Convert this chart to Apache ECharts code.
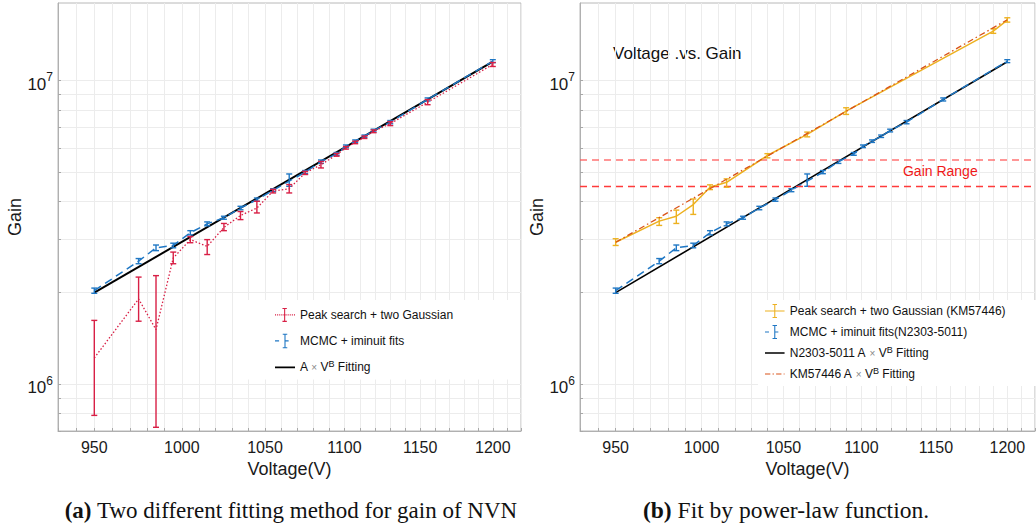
<!DOCTYPE html>
<html><head><meta charset="utf-8">
<script src="https://cdn.jsdelivr.net/npm/echarts@6/dist/echarts.min.js"></script>
<style>html,body{margin:0;padding:0;background:#fff}#c{width:1036px;height:529px}</style>
</head><body><div id="c"></div>
<script>
// ---- data ----
const peakVolt = [950,975,985,995,1005,1015,1025,1035,1045,1055,1065,1075,1085,1095,1101,1107,1113,1119,1130,1155,1200];
const peakGain = [1.218e6,1.906e6,1.51e6,2.60e6,2.99e6,2.84e6,3.28e6,3.59e6,3.80e6,4.32e6,4.40e6,4.96e6,5.28e6,5.69e6,6.0e6,6.25e6,6.5e6,6.8e6,7.21e6,8.48e6,1.129e7];
const peakLow  = [7.88e5,1.61e6,7.2e5,2.49e6,2.92e6,2.67e6,3.20e6,3.48e6,3.66e6,4.26e6,4.26e6,4.90e6,5.15e6,5.63e6,5.94e6,6.19e6,6.44e6,6.73e6,7.10e6,8.32e6,1.112e7];
const peakHigh = [1.62e6,2.25e6,2.275e6,2.72e6,3.06e6,2.99e6,3.38e6,3.70e6,4.0e6,4.38e6,4.54e6,5.02e6,5.41e6,5.75e6,6.06e6,6.31e6,6.56e6,6.87e6,7.32e6,8.65e6,1.146e7];

const mcmcVolt = [950,975,985,995,1005,1015,1025,1035,1045,1055,1065,1075,1085,1095,1101,1107,1113,1119,1130,1155,1200];
const mcmcGain = [2.03e6,2.54e6,2.81e6,2.86e6,3.15e6,3.37e6,3.53e6,3.80e6,4.05e6,4.35e6,4.66e6,4.99e6,5.40e6,5.73e6,6.07e6,6.31e6,6.55e6,6.84e6,7.29e6,8.66e6,1.158e7];
const mcmcLow  = [1.99e6,2.49e6,2.75e6,2.81e6,3.10e6,3.32e6,3.49e6,3.75e6,4.0e6,4.30e6,4.48e6,4.93e6,5.33e6,5.67e6,6.01e6,6.25e6,6.49e6,6.77e6,7.2e6,8.56e6,1.145e7];
const mcmcHigh = [2.07e6,2.59e6,2.87e6,2.91e6,3.20e6,3.42e6,3.57e6,3.85e6,4.1e6,4.40e6,4.92e6,5.05e6,5.47e6,5.79e6,6.13e6,6.37e6,6.61e6,6.91e6,7.38e6,8.76e6,1.171e7];

const kmVolt = [950,975,985,995,1005,1015,1040,1065,1090,1190,1200];
const kmGain = [2.93e6,3.44e6,3.57e6,3.90e6,4.45e6,4.62e6,5.66e6,6.64e6,7.92e6,1.455e7,1.581e7];
const kmLow  = [2.86e6,3.33e6,3.38e6,3.62e6,4.37e6,4.45e6,5.56e6,6.52e6,7.73e6,1.43e7,1.557e7];
const kmHigh = [3.01e6,3.53e6,3.74e6,4.07e6,4.53e6,4.74e6,5.74e6,6.76e6,8.13e6,1.48e7,1.609e7];

const fitVolt = [950,1200];
const nFitGain = [2.0e6,1.153e7];
const kmFitGain = [2.93e6,1.585e7];

const gainRange = [4.48e6,5.49e6];
const gainRangeLabelAt = [1153,5.02e6];

const xLabelTicks = [950,1000,1050,1100,1150,1200];
const xMinorTicks = [930,940,950,960,970,980,990,1000,1010,1020,1030,1040,1050,1060,1070,1080,1090,1100,1110,1120,1130,1140,1150,1160,1170,1180,1190,1200,1210,1220];
const yLabelTicks = [1e6,1e7];
const yMinorTicks = [7e5,8e5,9e5,1e6,2e6,3e6,4e6,5e6,6e6,7e6,8e6,9e6,1e7];

// ---- styling helpers ----
const RED = '#d81f45', BLUE = '#1f77c4', ORANGE = '#EDB120', ORED = '#D95319';
const SANS = '"Liberation Sans", Arial, Helvetica, sans-serif';
const SERIF = '"Liberation Serif", "Times New Roman", serif';
const pairs = (xs, ys) => xs.map((x, i) => [x, ys[i]]);
const triples = (xs, lo, hi) => xs.map((x, i) => [x, lo[i], hi[i]]);

function errRender(params, api) {
  const x = api.value(0), lo = api.value(1), hi = api.value(2);
  const a = api.coord([x, lo]), b = api.coord([x, hi]);
  const hw = 3;
  const st = { stroke: api.visual('color'), lineWidth: 1.4, fill: null };
  return { type: 'group', children: [
    { type: 'line', shape: { x1: a[0], y1: a[1], x2: b[0], y2: b[1] }, style: st },
    { type: 'line', shape: { x1: a[0]-hw, y1: a[1], x2: a[0]+hw, y2: a[1] }, style: st },
    { type: 'line', shape: { x1: b[0]-hw, y1: b[1], x2: b[0]+hw, y2: b[1] }, style: st }
  ]};
}

// legend icon paths (22 x 18 box)
const corners = 'M0 0h0.01v0.01h-0.01z M21.99 17.99h0.01v0.01h-0.01z ';
const ibeam = 'M10.4 1h1.2v16h-1.2z M8.5 1h5v1.2h-5z M8.5 15.8h5v1.2h-5z ';
let dots = '';
for (let x = 0; x < 22; x += 2.4) dots += 'M' + x + ' 8.4h1.2v1.2h-1.2z ';
const iconPeak = 'path://' + corners + ibeam + dots;
const iconMcmc = 'path://' + corners + ibeam + 'M0 8.3h4.5v1.4h-4.5z M11 8.3h4v1.4h-4z';
const iconFit = 'path://' + corners + 'M0 8.1h22v1.8h-22z';
const iconKm = 'path://' + corners + ibeam + 'M0 8.3h22v1.4h-22z';
const iconKmFit = 'path://' + corners + 'M0 8.3h6v1.4h-6z M8.5 8.3h1.5v1.4h-1.5z M12.5 8.3h6v1.4h-6z M21 8.3h1v1.4h-1z';

function xAxisCfg(gi) {
  return {
    type: 'log', logBase: 10, gridIndex: gi, min: 930, max: 1220,
    name: 'Voltage(V)', nameLocation: 'middle', nameGap: 25,
    nameTextStyle: { fontSize: 18, color: '#1a1a1a', fontFamily: SANS },
    axisLine: { show: true, lineStyle: { color: '#b0b0b0', width: 1 } },
    axisTick: { show: true, inside: true, length: 3, customValues: xMinorTicks, lineStyle: { color: '#a8a8a8' } },
    axisLabel: { customValues: xLabelTicks, fontSize: 16, color: '#1a1a1a', fontFamily: SANS, margin: 8, formatter: v => String(Math.round(v)) },
    splitLine: { show: true, lineStyle: { color: '#ececec', width: 1 } },
    minorTick: { show: false }, minorSplitLine: { show: false }
  };
}
function yAxisCfg(gi) {
  return {
    type: 'log', logBase: 10, gridIndex: gi, min: 7e5, max: 1.8e7,
    name: 'Gain', nameLocation: 'middle', nameGap: 34,
    nameTextStyle: { fontSize: 18, color: '#1a1a1a', fontFamily: SANS },
    axisLine: { show: true, lineStyle: { color: '#b0b0b0', width: 1 } },
    axisTick: { show: true, inside: true, length: 3, customValues: yMinorTicks, lineStyle: { color: '#a8a8a8' } },
    axisLabel: {
      customValues: yLabelTicks, margin: 5, color: '#1a1a1a', fontFamily: SANS, fontSize: 17,
      formatter: v => '{b|10}{s|' + Math.round(Math.log10(v)) + '}',
      rich: { b: { fontSize: 17, fontFamily: SANS, color: '#1a1a1a', padding: [8, 0, 0, 0] },
              s: { fontSize: 12, fontFamily: SANS, color: '#1a1a1a', padding: [0, 0, 6, 0] } }
    },
    splitLine: { show: true, lineStyle: { color: '#ececec', width: 1 } },
    minorTick: { show: false }, minorSplitLine: { show: false }
  };
}
const legendRich = { s: { fontSize: 9, fontFamily: SANS, color: '#111', padding: [0, 0, 7, 0] },
                     x: { fontSize: 10, fontFamily: SANS, color: '#888' } };
const legendFmt = n => n.replace(' × V^B', ' {x|×} V{s|B}');

const option = {
  animation: false,
  backgroundColor: '#fff',
  grid: [
    { left: 58, top: 3, width: 463, height: 428, show: true, borderColor: '#b8b8b8', borderWidth: 1, backgroundColor: '#fff' },
    { left: 580, top: 3, width: 455, height: 428, show: true, borderColor: '#b8b8b8', borderWidth: 1, backgroundColor: '#fff' }
  ],
  xAxis: [xAxisCfg(0), xAxisCfg(1)],
  yAxis: [yAxisCfg(0), yAxisCfg(1)],
  legend: [
    { orient: 'vertical', left: 237, top: 300, backgroundColor: '#fff', padding: [7, 65, 4, 38],
      itemWidth: 20, itemHeight: 20, itemGap: 10,
      itemStyle: { borderWidth: 0 },
      textStyle: { fontSize: 12, color: '#111', fontFamily: SANS, rich: legendRich },
      formatter: legendFmt,
      data: [
        { name: 'Peak search + two Gaussian', icon: iconPeak },
        { name: 'MCMC + iminuit fits', icon: iconMcmc },
        { name: 'A × V^B Fitting', icon: iconFit }
      ] },
    { orient: 'vertical', left: 758, top: 300, backgroundColor: '#fff', padding: [3, 40, 4, 7],
      itemWidth: 20, itemHeight: 16, itemGap: 5,
      itemStyle: { borderWidth: 0 },
      textStyle: { fontSize: 12, color: '#111', fontFamily: SANS, rich: legendRich },
      formatter: legendFmt,
      data: [
        { name: 'Peak search + two Gaussian (KM57446)', icon: iconKm },
        { name: 'MCMC + iminuit fits(N2303-5011)', icon: iconMcmc },
        { name: 'N2303-5011 A × V^B Fitting', icon: iconFit },
        { name: 'KM57446 A × V^B Fitting', icon: iconKmFit }
      ] }
  ],
  graphic: [
    { type: 'text', x: 613, y: 53, style: { text: 'Voltage .vs. Gain', fontSize: 17, fontFamily: SANS, fill: '#111', verticalAlign: 'middle' } },
    { type: 'text', x: 291, y: 510, style: { text: '{b|(a)} Two different fitting method for gain of NVN', fontSize: 23, fontFamily: SERIF, fill: '#111', align: 'center', verticalAlign: 'middle',
        rich: { b: { fontSize: 23, fontFamily: SERIF, fontWeight: 'bold', fill: '#111' } } } },
    { type: 'text', x: 786, y: 510, style: { text: '{b|(b)} Fit by power-law function.', fontSize: 23.5, fontFamily: SERIF, fill: '#111', align: 'center', verticalAlign: 'middle',
        rich: { b: { fontSize: 23.5, fontFamily: SERIF, fontWeight: 'bold', fill: '#111' } } } }
  ],
  series: [
    // ---- left panel ----
    { name: 'A × V^B Fitting', type: 'line', xAxisIndex: 0, yAxisIndex: 0, symbol: 'none', color: '#000',
      lineStyle: { color: '#000', width: 2 }, data: pairs(fitVolt, nFitGain), z: 3 },
    { name: 'MCMC + iminuit fits', type: 'line', xAxisIndex: 0, yAxisIndex: 0, symbol: 'none', color: BLUE,
      lineStyle: { color: BLUE, width: 1.5, type: [8, 5] }, data: pairs(mcmcVolt, mcmcGain), z: 4 },
    { name: 'mcmcErrA', type: 'custom', xAxisIndex: 0, yAxisIndex: 0, color: BLUE, renderItem: errRender,
      encode: { x: 0, y: [1, 2] }, data: triples(mcmcVolt, mcmcLow, mcmcHigh), z: 4 },
    { name: 'Peak search + two Gaussian', type: 'line', xAxisIndex: 0, yAxisIndex: 0, symbol: 'none', color: RED,
      lineStyle: { color: RED, width: 1.3, type: [1.5, 2] }, data: pairs(peakVolt, peakGain), z: 5 },
    { name: 'peakErr', type: 'custom', xAxisIndex: 0, yAxisIndex: 0, color: RED, renderItem: errRender,
      encode: { x: 0, y: [1, 2] }, data: triples(peakVolt, peakLow, peakHigh), z: 5 },
    // ---- right panel ----
    { name: 'gainRangeLow', type: 'line', xAxisIndex: 1, yAxisIndex: 1, symbol: 'none', color: '#ff3b3b',
      data: [], z: 2,
      markLine: { symbol: 'none', silent: true, label: { show: false },
        lineStyle: { color: '#ff3b3b', width: 1.4, type: [7, 5], opacity: 1 },
        data: [{ yAxis: gainRange[0] }] } },
    { name: 'gainRangeHigh', type: 'line', xAxisIndex: 1, yAxisIndex: 1, symbol: 'none', color: '#ff5050',
      data: [], z: 2,
      markLine: { symbol: 'none', silent: true, label: { show: false },
        lineStyle: { color: '#ff5a5a', width: 1.5, type: [7, 5], opacity: 0.85 },
        data: [{ yAxis: gainRange[1] }] },
      markPoint: { symbol: 'circle', symbolSize: 0, silent: true,
        label: { show: true, formatter: 'Gain Range', color: '#f01818', fontSize: 14, fontFamily: SANS, position: 'inside' },
        data: [{ coord: gainRangeLabelAt }] } },
    { name: 'N2303-5011 A × V^B Fitting', type: 'line', xAxisIndex: 1, yAxisIndex: 1, symbol: 'none', color: '#000',
      lineStyle: { color: '#000', width: 1.6 }, data: pairs(fitVolt, nFitGain), z: 3 },
    { name: 'MCMC + iminuit fits(N2303-5011)', type: 'line', xAxisIndex: 1, yAxisIndex: 1, symbol: 'none', color: BLUE,
      lineStyle: { color: BLUE, width: 1.5, type: [8, 5] }, data: pairs(mcmcVolt, mcmcGain), z: 4 },
    { name: 'mcmcErrB', type: 'custom', xAxisIndex: 1, yAxisIndex: 1, color: BLUE, renderItem: errRender,
      encode: { x: 0, y: [1, 2] }, data: triples(mcmcVolt, mcmcLow, mcmcHigh), z: 4 },
    { name: 'Peak search + two Gaussian (KM57446)', type: 'line', xAxisIndex: 1, yAxisIndex: 1, symbol: 'none', color: ORANGE,
      lineStyle: { color: ORANGE, width: 1.5 }, data: pairs(kmVolt, kmGain), z: 5 },
    { name: 'kmErr', type: 'custom', xAxisIndex: 1, yAxisIndex: 1, color: ORANGE, renderItem: errRender,
      encode: { x: 0, y: [1, 2] }, data: triples(kmVolt, kmLow, kmHigh), z: 5 },
    { name: 'KM57446 A × V^B Fitting', type: 'line', xAxisIndex: 1, yAxisIndex: 1, symbol: 'none', color: ORED,
      lineStyle: { color: ORED, width: 1.3, type: [6, 3, 1.5, 3] }, data: pairs(fitVolt, kmFitGain), z: 6 }
  ]
};
const chart = echarts.init(document.getElementById('c'), null, { renderer: 'svg', width: 1036, height: 529 });
chart.setOption(option);
</script>
</body></html>
